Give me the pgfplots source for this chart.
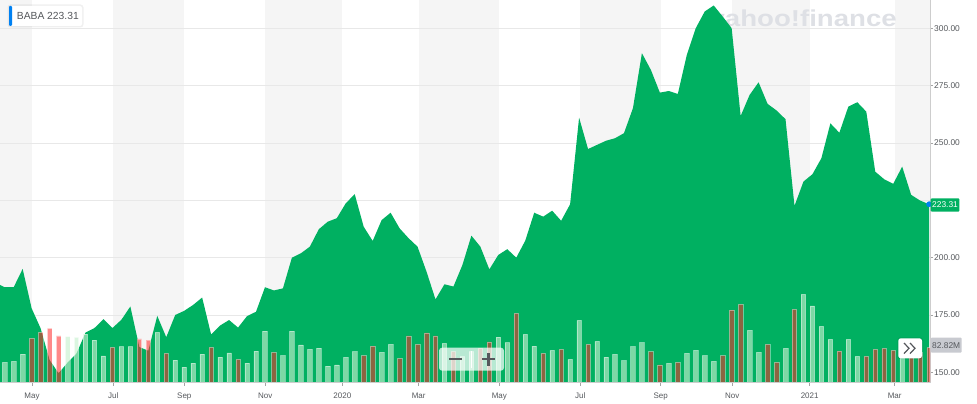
\documentclass[border=0pt]{standalone}
\usepackage{fontspec}
\setmainfont{Liberation Sans}
\usepackage{pgfplots}
\usepackage{pgfplotstable}
\pgfplotsset{compat=1.18}

\definecolor{ygreen}{RGB}{0,176,97}
\definecolor{band}{RGB}{245,245,245}
\definecolor{gridc}{RGB}{232,232,232}
\definecolor{upc}{RGB}{198,240,206}
\definecolor{downc}{RGB}{255,40,40}
\definecolor{labc}{RGB}{85,88,92}
\definecolor{axisc}{RGB}{205,205,205}
\definecolor{wmark}{RGB}{222,224,229}
\definecolor{yblue}{RGB}{0,129,242}
\definecolor{tagc}{RGB}{200,202,208}

% weekly close, x = week index
\pgfplotstableread{
i price
-0.524 188.1
0 187.1
1 187.1
2 195.1
3 177.9
4 169.2
5 155.4
6 149.6
7 154.2
8 158.2
9 167.3
10 169.3
11 173.2
12 169.3
13 172.9
14 178.7
15 161.0
16 159.4
17 174.6
18 165.3
19 175.0
20 176.8
21 179.4
22 182.6
23 166.5
24 170.4
25 172.8
26 169.5
27 174.5
28 176.4
29 187.1
30 185.7
31 186.6
32 200.0
33 201.9
34 204.8
35 212.4
36 215.7
37 217.2
38 223.7
39 227.7
40 213.5
41 207.3
42 216.4
43 219.6
44 212.8
45 208.5
46 204.8
47 193.9
48 181.8
49 188.4
50 187.4
51 196.8
52 209.6
53 204.8
54 194.9
55 201.2
56 203.7
57 200.0
58 207.4
59 219.6
60 217.9
61 220.5
62 216.1
63 223.3
64 261.1
65 247.4
66 249.2
67 251.0
68 252.1
69 254.3
70 265.2
71 289.2
72 281.9
73 272.0
74 272.7
75 271.4
76 288.4
77 300.1
78 307.4
79 310.0
80 305.2
81 300.1
82 261.8
83 271.0
84 276.5
85 267.1
86 264.2
87 260.4
88 222.6
89 233.2
90 236.4
91 243.4
92 258.6
93 254.5
94 265.9
95 267.8
96 263.7
97 237.5
98 234.2
99 232.2
100 239.7
101 227.4
102 224.9
103 223.31
}\pricedata

% volume (millions), up weeks
\pgfplotstableread{
i vol
0 48.0
1 50.4
2 67.9
7 108.8
8 107.2
9 115.2
10 101.0
11 63.2
13 85.2
14 85.2
17 119.0
19 53.7
20 37.1
21 46.6
22 67.9
24 60.8
25 70.3
27 46.6
28 75.0
29 122.3
31 63.9
32 122.3
33 89.2
34 78.8
35 81.6
36 39.5
37 41.9
38 59.9
39 73.3
42 71.7
43 90.6
49 93.0
51 61.5
52 73.3
55 108.1
56 94.6
58 114.3
59 86.8
61 76.4
63 55.1
64 147.4
66 97.7
67 60.8
68 67.0
69 52.1
70 85.2
71 95.1
74 45.7
76 69.3
77 76.4
78 63.9
79 50.4
83 123.7
84 71.7
87 81.2
89 208.9
90 181.5
91 133.2
92 102.4
94 102.4
95 62.2
100 66.2
}\volup

% volume (millions), down weeks
\pgfplotstableread{
i vol
3 104.8
4 119.0
5 128.5
6 110.5
12 83.5
15 103.4
16 101.0
18 69.3
23 83.5
26 55.1
30 71.7
40 63.9
41 86.8
44 57.5
45 110.5
46 90.6
47 117.6
48 110.5
50 73.3
53 81.2
54 96.3
57 164.0
60 69.3
62 78.8
65 90.6
72 73.3
73 41.9
75 48.0
80 63.9
81 172.0
82 185.3
85 90.6
86 48.0
88 173.4
93 74.5
96 62.2
97 78.8
98 81.2
99 76.4
101 75.7
102 71.0
103 82.82
}\voldown

% volume scale: 905.5M over the full plot height (145.46 .. 312.4)
\newcommand\volk{0.18436}

\begin{document}
\begin{tikzpicture}[x=1pt,y=1pt]
\begin{axis}[
  scale only axis, width=930pt, height=382.7pt,
  xmin=-0.524, xmax=103.10, ymin=145.46, ymax=312.4,
  set layers,
  axis x line*=bottom, axis y line*=right,
  axis line style={draw=axisc, line width=0.8pt},
  ytick={150,175,200,225,250,275,300},
  yticklabels={150.00,175.00,200.00,,250.00,275.00,300.00},
  ymajorgrids, grid style={draw=gridc, line width=0.6pt},
  xtick={3.04,12.10,20.01,29.04,37.62,46.13,55.11,64.13,73.09,81.07,89.69,99.16},
  xticklabels={May,Jul,Sep,Nov,2020,Mar,May,Jul,Sep,Nov,2021,Mar},
  tick align=outside, major tick length=3pt,
  tick style={draw=axisc!80!black, line width=0.6pt},
  yticklabel style={font=\fontsize{8.4}{9}\selectfont, text=labc, anchor=west, inner sep=0pt, xshift=1pt},
  xticklabel style={font=\fontsize{8}{9}\selectfont, text=labc, anchor=base, inner sep=0pt, yshift=-12.6pt},
]
\begin{pgfonlayer}{axis background}
\fill[band] (axis cs:-0.524,145.46) rectangle (axis cs:3.04,312.4);
\fill[band] (axis cs:12.10,145.46) rectangle (axis cs:20.01,312.4);
\fill[band] (axis cs:29.04,145.46) rectangle (axis cs:37.62,312.4);
\fill[band] (axis cs:46.13,145.46) rectangle (axis cs:55.11,312.4);
\fill[band] (axis cs:64.13,145.46) rectangle (axis cs:73.09,312.4);
\fill[band] (axis cs:81.07,145.46) rectangle (axis cs:89.69,312.4);
\fill[band] (axis cs:99.16,145.46) rectangle (axis cs:103.10,312.4);
\end{pgfonlayer}
\node[anchor=base east, inner sep=0pt, xscale=1.2, font=\fontsize{23}{23}\selectfont\bfseries, text=wmark]
  at (axis cs:99.42,300.8) {yahoo!finance};
\addplot[draw=none, fill=ygreen] table[x=i, y=price] {\pricedata} \closedcycle;
\addplot[only marks, mark=*, mark size=2.6pt, color=yblue] coordinates {(103,223.31)};
% volume bars, scaled into the lower part of the price axis
\addplot[ybar, bar width=0.5, bar shift=0pt, fill=upc, fill opacity=0.63,
  draw=white, draw opacity=0.4, line width=0.5pt]
  table[x=i, y expr=145.46+\thisrow{vol}*\volk] {\volup};
\addplot[ybar, bar width=0.5, bar shift=0pt, fill=downc, fill opacity=0.55,
  draw=white, draw opacity=0.4, line width=0.5pt]
  table[x=i, y expr=145.46+\thisrow{vol}*\volk] {\voldown};
\coordinate (O) at (rel axis cs:0,0);
\end{axis}

\begin{scope}[shift={(O)}, yshift=-21.3pt]
% bottom axis line
\draw[axisc, line width=0.8pt] (0,21.3) -- (930.7,21.3);

% ticker box
\fill[black, opacity=0.06, rounded corners=3pt] (7.5,376.5) rectangle (83.5,399.5);
\fill[white, rounded corners=2pt] (9,378) rectangle (82,398);
\fill[yblue, rounded corners=1pt] (9,378) rectangle (12,398);
\node[anchor=west, inner sep=0pt, font=\fontsize{10.3}{11}\selectfont, text=labc] at (16.7,388) {BABA 223.31};

% last price tag
\fill[ygreen, rounded corners=1pt] (930.7,192.3) rectangle (959.3,205.7);
\node[inner sep=0pt, font=\fontsize{8.4}{9}\selectfont, text=white] at (945,199) {223.31};

% volume tag
\fill[tagc, rounded corners=1pt] (930.7,51.3) rectangle (961.7,66.3);
\node[inner sep=0pt, font=\fontsize{8.4}{9}\selectfont, text=labc] at (946.2,58.8) {82.82M};

% scroll button
\fill[black, opacity=0.08, rounded corners=3pt] (897.3,44.7) rectangle (923,66.7);
\fill[white, rounded corners=2.5pt] (898.3,45.7) rectangle (922,65.7);
\draw[labc, line width=1.2pt] (904,61) -- (909,55.7) -- (904,50.4);
\draw[labc, line width=1.2pt] (910,61) -- (915,55.7) -- (910,50.4);

% zoom control
\fill[white, opacity=0.72, rounded corners=3pt] (439,33.3) rectangle (504,56.3);
\draw[white, line width=1pt] (471.7,35.7) -- (471.7,53.3);
\draw[labc, line width=2.4pt] (449.3,44.7) -- (461.7,44.7);
\draw[labc, line width=2.4pt] (482.3,44.7) -- (494.7,44.7);
\draw[labc, line width=2.4pt] (488.5,38.3) -- (488.5,50.7);

\pgfresetboundingbox
\useasboundingbox (0,0) rectangle (977,404);
\end{scope}
\end{tikzpicture}
\end{document}
